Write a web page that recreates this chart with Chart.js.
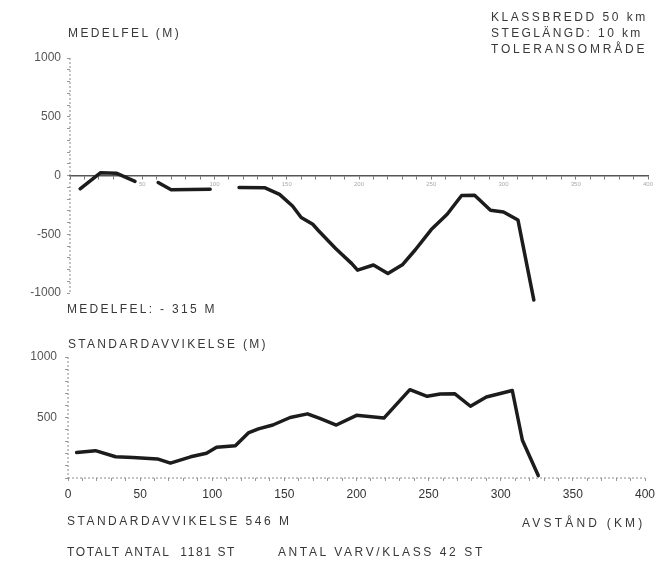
<!DOCTYPE html>
<html><head><meta charset="utf-8">
<script src="https://cdn.jsdelivr.net/npm/chart.js@4/dist/chart.umd.min.js"></script>
<style>
html,body{margin:0;padding:0;background:#fff;}
#wrap{position:relative;width:664px;height:562px;overflow:hidden;font-family:"Liberation Sans",Arial,sans-serif;color:#383838;}
canvas{position:absolute;left:0;}
.t{position:absolute;font-size:12px;line-height:13px;white-space:nowrap;letter-spacing:2.4px;}
</style></head><body>
<div id="wrap">
<canvas id="top" style="top:0;width:664px;height:320px" width="664" height="320"></canvas>
<canvas id="bot" style="top:320px;width:664px;height:242px" width="664" height="242"></canvas>
<div class="t" style="left:68px;top:27px;letter-spacing:2.4px">MEDELFEL (M)</div>
<div class="t" style="left:491px;top:11px;letter-spacing:2.5px">KLASSBREDD 50 km</div>
<div class="t" style="left:491px;top:27px;letter-spacing:2.4px">STEGLÄNGD: 10 km</div>
<div class="t" style="left:491px;top:43px;letter-spacing:2.8px">TOLERANSOMRÅDE</div>
<div class="t" style="left:67px;top:303px;letter-spacing:2.3px">MEDELFEL: - 315 M</div>
<div class="t" style="left:68px;top:338px;letter-spacing:2.3px">STANDARDAVVIKELSE (M)</div>
<div class="t" style="left:67px;top:515px;letter-spacing:2.5px">STANDARDAVVIKELSE 546 M</div>
<div class="t" style="left:522px;top:517px;letter-spacing:3.2px">AVSTÅND (KM)</div>
<div class="t" style="left:67px;top:546px;letter-spacing:1.6px">TOTALT ANTAL&nbsp; 1181 ST</div>
<div class="t" style="left:278px;top:546px;letter-spacing:2.6px">ANTAL VARV/KLASS 42 ST</div>
</div>
<script>
// Medelfel (mean error), metres, by distance (km); null = break in curve
const medelKm  = [7, 21, 32, 45, 53, 61, 70, 97, 107, 117, 135, 145, 154, 160, 168, 172, 184, 195, 199, 210, 220, 230, 239, 250, 261, 271, 280, 291, 300, 310, 321];
const medelVal = [-113, 23, 20, -50, null, -60, -122, -117, null, -103, -105, -161, -260, -357, -415, -470, -623, -750, -806, -762, -834, -760, -632, -460, -330, -170, -168, -295, -310, -378, -1060];
// Standardavvikelse (standard deviation), metres
const stdKm  = [6, 19, 33, 45, 62, 71, 85, 96, 103, 116, 125, 132, 142, 154, 166, 175, 186, 200, 219, 237, 249, 258, 268, 279, 290, 308, 315, 326];
const stdVal = [210, 226, 176, 170, 158, 123, 175, 205, 255, 266, 372, 406, 438, 500, 530, 490, 438, 518, 495, 730, 675, 695, 697, 593, 670, 723, 312, 20];
// tick label sets
const topYLabels = [1000, 500, 0, -500, -1000];
const botYLabels = [1000, 500];
const xLabels = [0, 50, 100, 150, 200, 250, 300, 350, 400];

const dashedAxes = {
  id: 'dashedAxes',
  afterDraw(chart, args, opts) {
    const {ctx, chartArea: a} = chart;
    ctx.save();
    ctx.strokeStyle = '#8a8a8a';
    ctx.lineWidth = 1;
    ctx.setLineDash([2, 2]);
    ctx.beginPath();
    ctx.moveTo(a.left, a.top); ctx.lineTo(a.left, a.bottom);
    if (opts.bottom) { ctx.moveTo(a.left, a.bottom); ctx.lineTo(a.right, a.bottom); }
    ctx.stroke();
    ctx.restore();
  }
};

const lineStyle = {borderColor: '#1c1c1c', borderWidth: 3.5, pointRadius: 0, tension: 0, spanGaps: false,
  borderJoinStyle: 'round', borderCapStyle: 'round', fill: false, clip: false};

new Chart(document.getElementById('top'), {
  type: 'line',
  data: {datasets: [Object.assign({data: medelKm.map((x, i) => ({x, y: medelVal[i]}))}, lineStyle)]},
  plugins: [dashedAxes],
  options: {
    responsive: false, animation: false, devicePixelRatio: 1,
    layout: {padding: {top: 58, bottom: 27, left: 0, right: 16}},
    plugins: {legend: {display: false}, tooltip: {enabled: false}, dashedAxes: {bottom: false}},
    scales: {
      x: {type: 'linear', min: 0, max: 400, position: {y: 0},
        ticks: {stepSize: 10, autoSkip: false, maxRotation: 0, font: {size: 6, family: 'Liberation Sans'}, color: '#aaa', padding: 2,
          callback: v => (v > 0 && xLabels.includes(v)) ? String(v) : ''},
        grid: {drawOnChartArea: false, drawTicks: true, tickLength: 3, color: '#777'},
        border: {color: '#555', width: 1.5}},
      y: {min: -1000, max: 1000,
        ticks: {stepSize: 100, autoSkip: false, font: {size: 12, family: 'Liberation Sans'}, color: '#555', padding: 6,
          callback: v => topYLabels.includes(v) ? String(v) : ''},
        grid: {drawOnChartArea: false, tickLength: 3, color: '#999'},
        border: {display: false},
        afterFit: s => { s.width = 70; }}
    }
  }
});

new Chart(document.getElementById('bot'), {
  type: 'line',
  data: {datasets: [Object.assign({data: stdKm.map((x, i) => ({x, y: stdVal[i]}))}, lineStyle)]},
  plugins: [dashedAxes],
  options: {
    responsive: false, animation: false, devicePixelRatio: 1,
    layout: {padding: {top: 37, bottom: 84, left: 0, right: 19}},
    plugins: {legend: {display: false}, tooltip: {enabled: false}, dashedAxes: {bottom: true}},
    scales: {
      x: {type: 'linear', min: 0, max: 400, position: {y: 0},
        ticks: {stepSize: 10, autoSkip: false, maxRotation: 0, font: {size: 12, family: 'Liberation Sans'}, color: '#333', padding: 6,
          callback: v => xLabels.includes(v) ? String(v) : ''},
        grid: {drawOnChartArea: false, drawTicks: true, tickLength: 3, color: '#999'},
        border: {display: false}},
      y: {min: 0, max: 1000,
        ticks: {stepSize: 100, autoSkip: false, font: {size: 12, family: 'Liberation Sans'}, color: '#555', padding: 8,
          callback: v => botYLabels.includes(v) ? String(v) : ''},
        grid: {drawOnChartArea: false, tickLength: 3, color: '#999'},
        border: {display: false},
        afterFit: s => { s.width = 68; }}
    }
  }
});
</script>
</body></html>
